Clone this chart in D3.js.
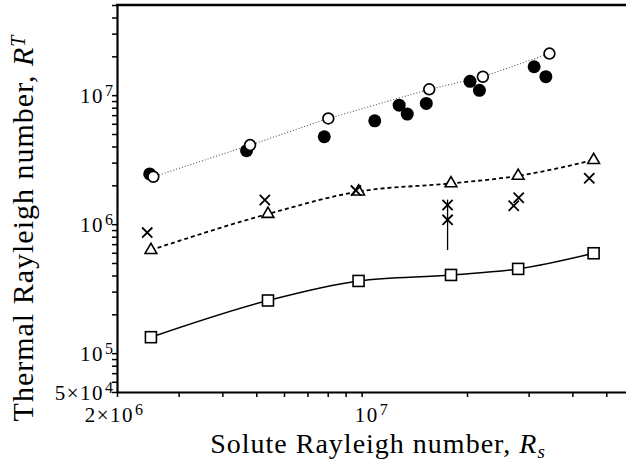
<!DOCTYPE html>
<html>
<head>
  <meta charset="UTF-8">
  <style>
    body { margin: 0; padding: 0; background: #fff; }
    svg { display: block; }
    text { font-family: 'Liberation Serif', 'Times New Roman', serif; fill: #000; }
  </style>
</head>
<body>
<svg width="626" height="470"></svg>
<script src="https://d3js.org/d3.v7.min.js"></script>
<script>
// experiment columns (Rs shared by the triangle / square series)
const seriesRs = [2.5e6, 5.4e6, 9.8e6, 1.8e7, 2.8e7, 4.6e7];
const squareRT = [1.33e5, 2.56e5, 3.63e5, 4.04e5, 4.5e5, 5.95e5];
const triangleRT = [6.3e5, 1.2e6, 1.79e6, 2.07e6, 2.37e6, 3.14e6];

const crossRs = [2.44e6, 5.29e6, 9.63e6, 1.76e7, 1.76e7, 2.72e7, 2.81e7, 4.47e7];
const crossRT = [8.6e5, 1.54e6, 1.82e6, 1.41e6, 1.08e6, 1.39e6, 1.6e6, 2.27e6];
const errRs = 1.76e7, errLow = 6.3e5, errHigh = 1.55e6;

const openRs = [2.54e6, 4.8e6, 8.03e6, 1.56e7, 2.22e7, 3.44e7];
const openRT = [2.33e6, 4.1e6, 6.6e6, 1.11e7, 1.39e7, 2.1e7];

const filledRs = [2.48e6, 4.69e6, 7.82e6, 1.09e7, 1.28e7, 1.35e7, 1.53e7, 2.04e7, 2.17e7, 3.11e7, 3.36e7];
const filledRT = [2.45e6, 3.71e6, 4.76e6, 6.33e6, 8.37e6, 7.13e6, 8.63e6, 1.28e7, 1.09e7, 1.66e7, 1.39e7];

// tick marks and labels
const xTicks = [2e6, 3e6, 4e6, 5e6, 6e6, 7e6, 8e6, 9e6, 1e7, 2e7, 3e7, 4e7, 5e7];
const yTicks = [5e4, 6e4, 7e4, 8e4, 9e4, 1e5, 2e5, 3e5, 4e5, 5e5, 6e5, 7e5, 8e5, 9e5,
                1e6, 2e6, 3e6, 4e6, 5e6, 6e6, 7e6, 8e6, 9e6, 1e7, 2e7, 3e7, 4e7, 5e7];
const xLabels = [[2e6, "2\u00d710", "6"], [1e7, "10", "7"]];
const yLabels = [[5e4, "5\u00d710", "4"], [1e5, "10", "5"], [1e6, "10", "6"], [1e7, "10", "7"]];

let svg = d3.select("svg");
let padLeft = 117, padBottom = 392, padTop = 5;

let x = d3.scaleLog().domain([2e6, 6e7]).range([padLeft, 634]);
let y = d3.scaleLog().domain([5e4, 5e7]).range([padBottom, padTop]);

// axes
let xAxis = svg.append("g")
    .attr("transform", `translate(0,${padBottom})`)
    .call(d3.axisBottom(x).tickValues(xTicks).tickFormat("").tickSize(5).tickSizeOuter(0));
let yAxis = svg.append("g")
    .attr("transform", `translate(${padLeft},0)`)
    .call(d3.axisLeft(y).tickValues(yTicks).tickFormat("").tickSize(5).tickSizeOuter(0));
[xAxis, yAxis].forEach(a => {
    a.select(".domain").attr("stroke", "#000").attr("stroke-width", 2.2);
    a.selectAll(".tick line").attr("stroke", "#000").attr("stroke-width", 1.5);
});
svg.append("line")
    .attr("x1", padLeft - 1).attr("x2", 626)
    .attr("y1", padTop).attr("y2", padTop)
    .attr("stroke", "#000").attr("stroke-width", 2.5);

// tick labels: base text ends at an anchor point, exponent starts there
function powLabel(ax, by, base, exp) {
    svg.append("text")
        .attr("x", ax).attr("y", by)
        .attr("text-anchor", "end")
        .attr("font-size", 21).attr("letter-spacing", 1.5)
        .text(base);
    svg.append("text")
        .attr("x", ax + 1).attr("y", by - 7)
        .attr("font-size", 16)
        .text(exp);
}
xLabels.forEach(([v, base, exp]) => powLabel(x(v) + 17, 422, base, exp));
yLabels.forEach(([v, base, exp]) => powLabel(104, y(v) + 8, base, exp));

// axis titles
let xt = svg.append("text")
    .attr("x", 378).attr("y", 453)
    .attr("text-anchor", "middle")
    .attr("font-size", 28).attr("letter-spacing", 1);
xt.append("tspan").text("Solute Rayleigh number, ");
xt.append("tspan").attr("font-style", "italic").text("R");
xt.append("tspan").attr("font-style", "italic").attr("font-size", 19).attr("dy", 5).text("s");

let yt = svg.append("text")
    .attr("transform", "translate(33,228) rotate(-90)")
    .attr("text-anchor", "middle")
    .attr("font-size", 30).attr("letter-spacing", 1);
yt.append("tspan").text("Thermal Rayleigh number, ");
yt.append("tspan").attr("font-style", "italic").text("R");
yt.append("tspan").attr("font-style", "italic").attr("font-size", 20).attr("dy", -8).text("T");

// lines
let lineOpen = d3.line().x(d => x(d[0])).y(d => y(d[1]));
let lineSmooth = d3.line().x(d => x(d[0])).y(d => y(d[1])).curve(d3.curveMonotoneX);

svg.append("path")
    .datum(d3.zip(openRs, openRT))
    .attr("d", lineOpen)
    .attr("fill", "none").attr("stroke", "#555")
    .attr("stroke-width", 1.1).attr("stroke-dasharray", "1,2");
svg.append("path")
    .datum(d3.zip(seriesRs, triangleRT))
    .attr("d", lineSmooth)
    .attr("fill", "none").attr("stroke", "#000")
    .attr("stroke-width", 1.8).attr("stroke-dasharray", "4,3");
svg.append("path")
    .datum(d3.zip(seriesRs, squareRT))
    .attr("d", lineSmooth)
    .attr("fill", "none").attr("stroke", "#000")
    .attr("stroke-width", 1.5);

// error bar
svg.append("line")
    .attr("x1", x(errRs)).attr("x2", x(errRs))
    .attr("y1", y(errHigh)).attr("y2", y(errLow))
    .attr("stroke", "#000").attr("stroke-width", 1.3);

// markers
svg.append("g").selectAll("rect")
    .data(d3.zip(seriesRs, squareRT))
    .join("rect")
    .attr("x", d => x(d[0]) - 5.5).attr("y", d => y(d[1]) - 5.5)
    .attr("width", 11).attr("height", 11)
    .attr("fill", "#fff").attr("stroke", "#000").attr("stroke-width", 1.6);

svg.append("g").selectAll("path")
    .data(d3.zip(seriesRs, triangleRT))
    .join("path")
    .attr("d", d3.symbol(d3.symbolTriangle, 60))
    .attr("transform", d => `translate(${x(d[0])},${y(d[1])})`)
    .attr("fill", "#fff").attr("stroke", "#000").attr("stroke-width", 1.6);

svg.append("g").selectAll("path")
    .data(d3.zip(crossRs, crossRT))
    .join("path")
    .attr("d", d3.symbol(d3.symbolX, 70))
    .attr("transform", d => `translate(${x(d[0])},${y(d[1])})`)
    .attr("fill", "none").attr("stroke", "#000").attr("stroke-width", 1.8);

svg.append("g").selectAll("circle")
    .data(d3.zip(filledRs, filledRT))
    .join("circle")
    .attr("cx", d => x(d[0])).attr("cy", d => y(d[1]))
    .attr("r", 6.5).attr("fill", "#000");

svg.append("g").selectAll("circle")
    .data(d3.zip(openRs, openRT))
    .join("circle")
    .attr("cx", d => x(d[0])).attr("cy", d => y(d[1]))
    .attr("r", 5.4).attr("fill", "#fff").attr("stroke", "#000").attr("stroke-width", 1.7);
</script>
</body>
</html>
